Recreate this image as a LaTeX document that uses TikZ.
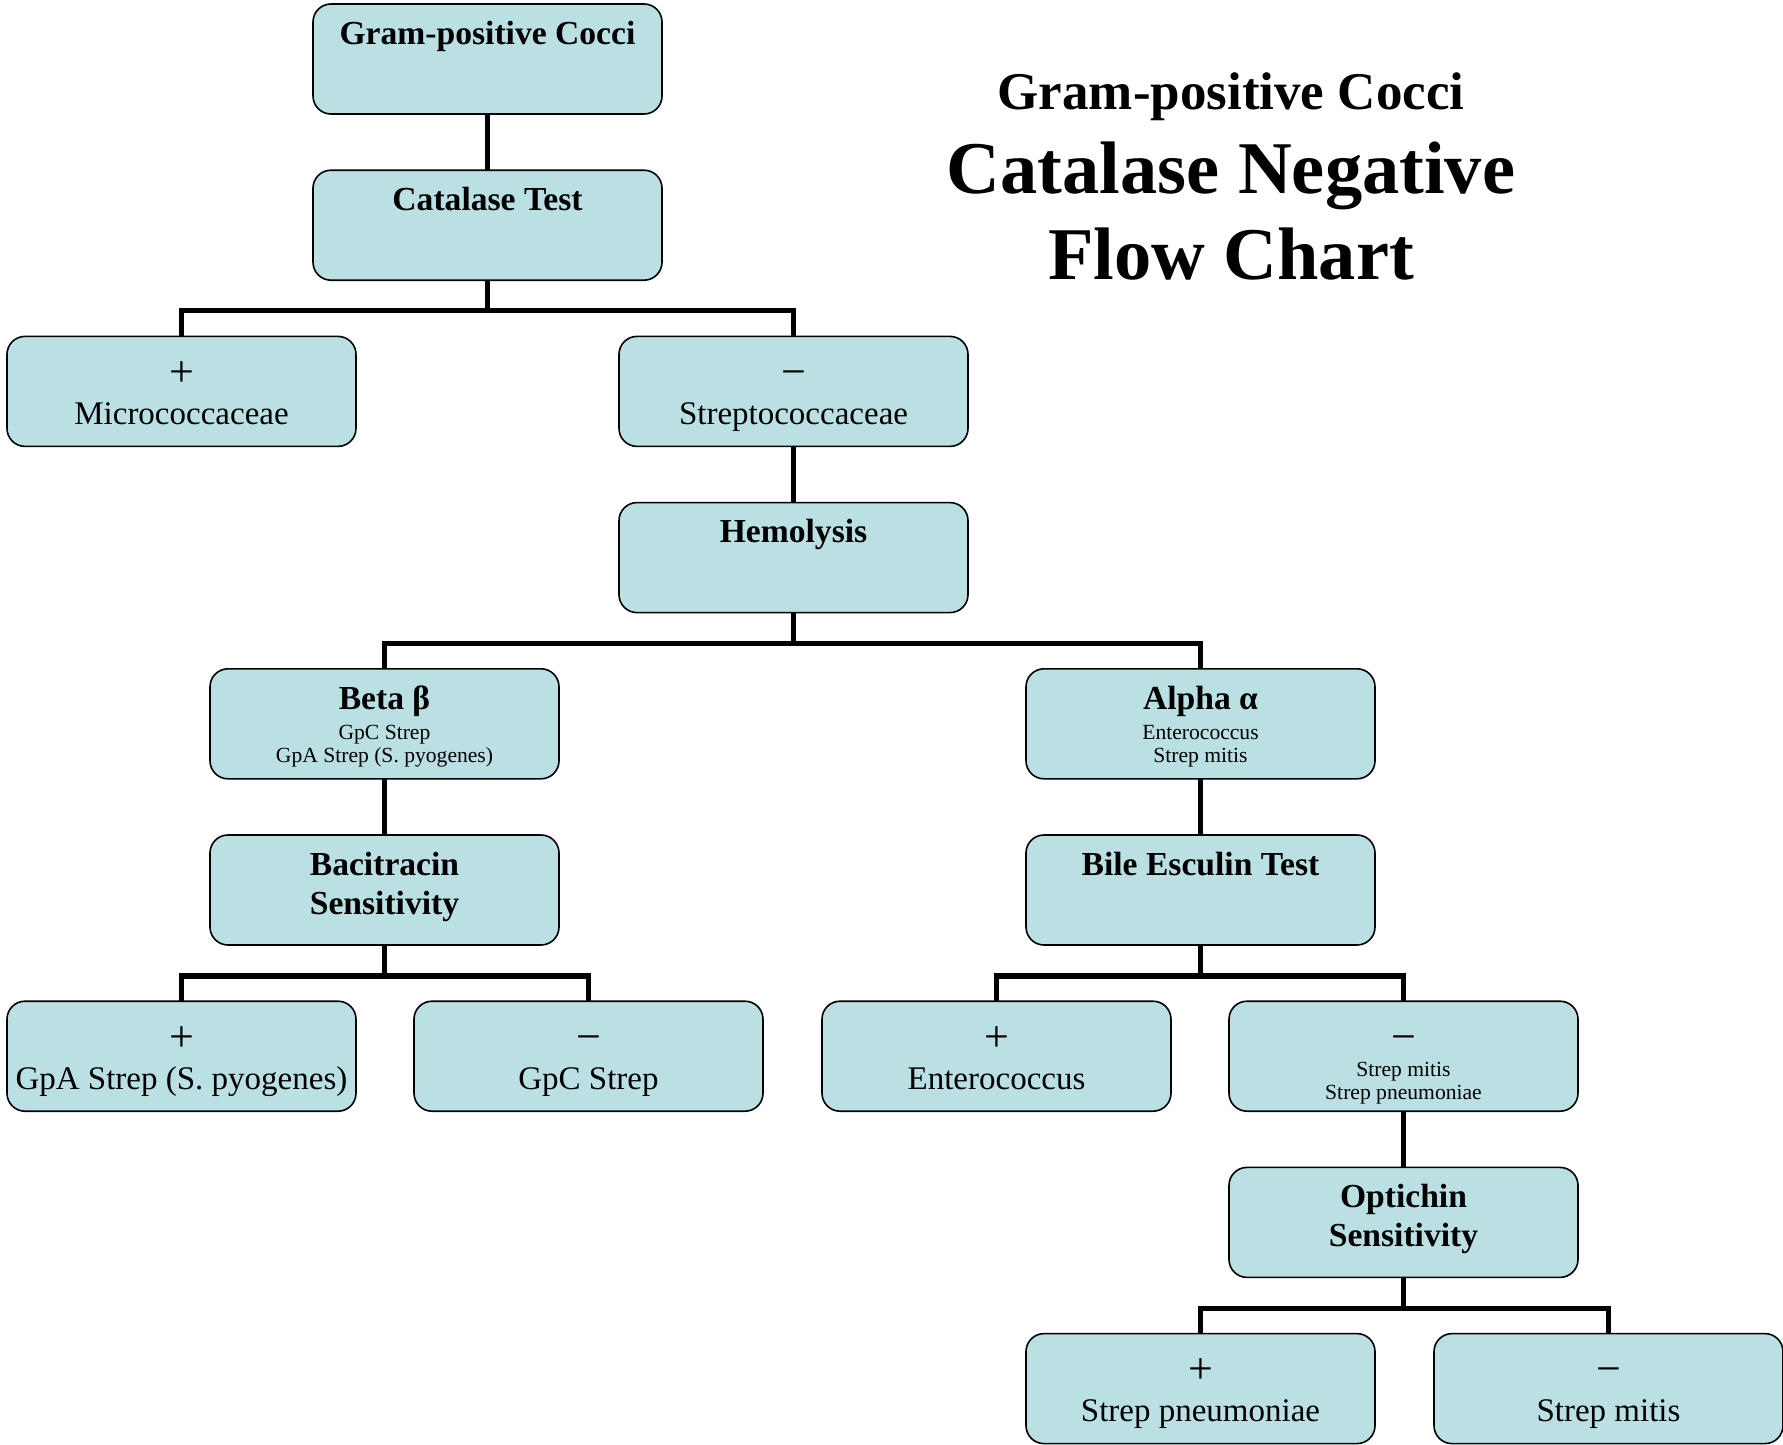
\documentclass[tikz,border=0pt]{standalone}
\usepackage{fontspec}
\setmainfont{Liberation Serif}
\definecolor{boxfill}{RGB}{186,224,228}
\newcommand\bw{174.5pt}
\newcommand\bxline[2]{\vbox to 0pt{\vskip#1\hbox to \bw{\hss\smash{#2}\hss}\vss}}
\newcommand\boxbody[1]{\vbox to 55pt{\offinterlineskip\hsize=\bw #1\vss}}
\newcommand\fhead{\fontsize{16.8}{20}\selectfont\bfseries}
\newcommand\fnorm{\fontsize{16.5}{20}\selectfont}
\newcommand\fsign{\fontsize{22}{24}\selectfont}
\newcommand\fsmall{\fontsize{10.8}{13}\selectfont}
\begin{document}
\begin{tikzpicture}[x=0.5pt, y=-0.5pt,
  box/.style={draw=black, line width=0.8pt, fill=boxfill, rounded corners=9pt,
    inner sep=0pt, outer sep=0pt, minimum width=174.5pt, minimum height=55pt},
  link/.style={line width=2.6pt},
  title/.style={anchor=base, inner sep=0pt}]
\useasboundingbox (0,0) rectangle (1783,1445);

% boxes
\node[box] (gpc) at (487.5,59) {\boxbody{\bxline{20pt}{\fhead Gram-positive Cocci}}};
\node[box] (cat) at (487.5,225.2) {\boxbody{\bxline{20pt}{\fhead Catalase Test}}};
\node[box] (mic) at (181.5,391.4) {\boxbody{\bxline{25pt}{\fsign +}\bxline{44pt}{\fnorm Micrococcaceae}}};
\node[box] (strep) at (793.5,391.4) {\boxbody{\bxline{25pt}{\fsign −}\bxline{44pt}{\fnorm Streptococcaceae}}};
\node[box] (hem) at (793.5,557.6) {\boxbody{\bxline{20pt}{\fhead Hemolysis}}};
\node[box] (beta) at (384.5,723.8) {\boxbody{\bxline{20.5pt}{\fhead Beta β}\bxline{35.5pt}{\fsmall GpC Strep}\bxline{47pt}{\fsmall GpA Strep (S. pyogenes)}}};
\node[box] (alpha) at (1200.5,723.8) {\boxbody{\bxline{20.5pt}{\fhead Alpha α}\bxline{35.5pt}{\fsmall Enterococcus}\bxline{47pt}{\fsmall Strep mitis}}};
\node[box] (bac) at (384.5,890) {\boxbody{\bxline{20pt}{\fhead Bacitracin}\bxline{39.5pt}{\fhead Sensitivity}}};
\node[box] (bile) at (1200.5,890) {\boxbody{\bxline{20pt}{\fhead Bile Esculin Test}}};
\node[box] (gpa) at (181.5,1056.2) {\boxbody{\bxline{25pt}{\fsign +}\bxline{44pt}{\fnorm GpA Strep (S. pyogenes)}}};
\node[box] (gpcs) at (588.5,1056.2) {\boxbody{\bxline{25pt}{\fsign −}\bxline{44pt}{\fnorm GpC Strep}}};
\node[box] (ent) at (996.5,1056.2) {\boxbody{\bxline{25pt}{\fsign +}\bxline{44pt}{\fnorm Enterococcus}}};
\node[box] (mitpn) at (1403.5,1056.2) {\boxbody{\bxline{25pt}{\fsign −}\bxline{37.5pt}{\fsmall Strep mitis}\bxline{49pt}{\fsmall Strep pneumoniae}}};
\node[box] (opt) at (1403.5,1222.4) {\boxbody{\bxline{20pt}{\fhead Optichin}\bxline{39.5pt}{\fhead Sensitivity}}};
\node[box] (spn) at (1200.5,1388.6) {\boxbody{\bxline{25pt}{\fsign +}\bxline{44pt}{\fnorm Strep pneumoniae}}};
\node[box] (smit) at (1608.5,1388.6) {\boxbody{\bxline{25pt}{\fsign −}\bxline{44pt}{\fnorm Strep mitis}}};

% connectors
\draw[link] (gpc.south) -- (cat.north);
\path (cat.south) ++(0,30) coordinate (b1);
\draw[link] (cat.south) -- (b1);
\draw[link] (mic.north) |- (b1) -| (strep.north);
\draw[link] (strep.south) -- (hem.north);
\path (hem.south) ++(0,31) coordinate (b2);
\draw[link] (hem.south) -- (b2);
\draw[link] (beta.north) |- (b2) -| (alpha.north);
\draw[link] (beta.south) -- (bac.north);
\draw[link] (alpha.south) -- (bile.north);
\path (bac.south) ++(0,31) coordinate (b3);
\draw[link] (bac.south) -- (b3);
\draw[link] (gpa.north) |- (b3) -| (gpcs.north);
\path (bile.south) ++(0,31) coordinate (b4);
\draw[link] (bile.south) -- (b4);
\draw[link] (ent.north) |- (b4) -| (mitpn.north);
\draw[link] (mitpn.south) -- (opt.north);
\path (opt.south) ++(0,31) coordinate (b5);
\draw[link] (opt.south) -- (b5);
\draw[link] (spn.north) |- (b5) -| (smit.north);

% title
\node[title, font=\fontsize{26.5}{30}\selectfont\bfseries] (t1) at (1231,110) {Gram-positive Cocci};
\node[title, font=\fontsize{37.2}{42}\selectfont\bfseries] (t2) at (1231,193) {Catalase Negative};
\node[title, font=\fontsize{37.2}{42}\selectfont\bfseries] (t3) at (1231,279) {Flow Chart};
\end{tikzpicture}
\end{document}
